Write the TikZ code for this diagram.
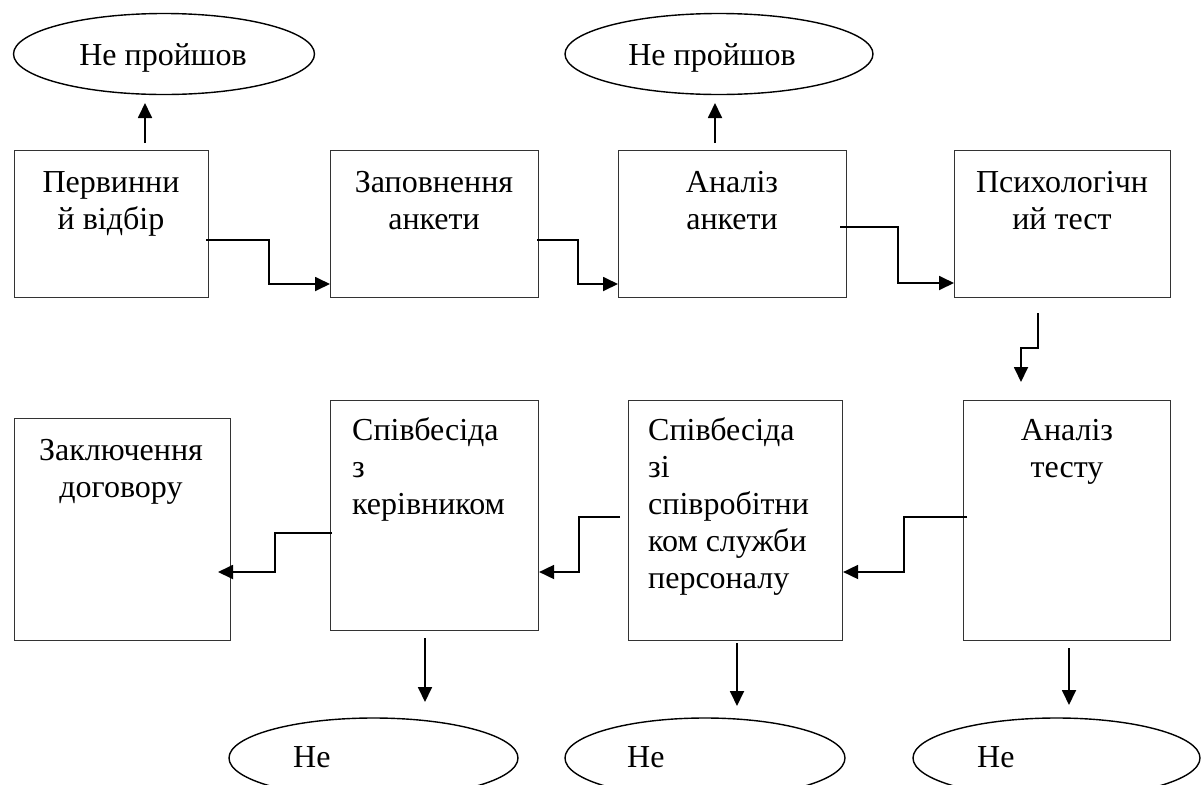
\documentclass[tikz,border=0pt]{standalone}
\usepackage{fontspec}
\setmainfont{Liberation Serif}
\usetikzlibrary{shapes.geometric,arrows.meta,calc}
\begin{document}
\begin{tikzpicture}[x=1pt,y=-1pt,
  box/.style={draw=black!80, line width=1.1pt, anchor=north west, inner sep=0pt},
  ell/.style={draw, ellipse, line width=1.4pt, inner sep=0pt},
  txt/.style={inner sep=0pt, font=\fontsize{32}{37}\selectfont},
  conn/.style={line width=1.8pt, -{Triangle[length=15pt,width=14pt]}},
]
\useasboundingbox (0,0) rectangle (1203,785);
\clip (0,0) rectangle (1203,785);

% boxes
\node[box, minimum width=194pt, minimum height=147pt] (b1) at (14,150) {};
\node[box, minimum width=208pt, minimum height=147pt] (b2) at (330,150) {};
\node[box, minimum width=228pt, minimum height=147pt] (b3) at (618,150) {};
\node[box, minimum width=216pt, minimum height=147pt] (b4) at (954,150) {};
\node[box, minimum width=207pt, minimum height=240pt] (b5) at (963,400) {};
\node[box, minimum width=214pt, minimum height=240pt] (b6) at (628,400) {};
\node[box, minimum width=208pt, minimum height=230pt] (b7) at (330,400) {};
\node[box, minimum width=216pt, minimum height=222pt] (b8) at (14,418) {};

% box texts
\node[txt, anchor=north, align=center] (t1) at (111,166.1) {\strut Первинни\\й відбір};
\node[txt, anchor=north, align=center] (t2) at (434,166.1) {\strut Заповнення\\анкети};
\node[txt, anchor=north, align=center] (t3) at (732,166.1) {\strut Аналіз\\анкети};
\node[txt, anchor=north, align=center] (t4) at (1062,166.1) {\strut Психологічн\\ий тест};
\node[txt, anchor=north, align=center] (t5) at (1067,414.1) {\strut Аналіз\\тесту};
\node[txt, anchor=north west, align=left] (t6) at (648,414.1) {\strut Співбесіда\\зі\\співробітни\\ком служби\\персоналу};
\node[txt, anchor=north west, align=left] (t7) at (352,414.1) {\strut Співбесіда\\з\\керівником};
\node[txt, anchor=north, align=center] (t8) at (121,434.1) {\strut Заключення\\договору};

% ellipses
\node[ell, minimum width=301pt, minimum height=81pt] (e1) at (164,54) {};
\node[txt, anchor=base] (te1) at (163,65) {Не пройшов};
\node[ell, minimum width=308pt, minimum height=81pt] (e2) at (719,54) {};
\node[txt, anchor=base] (te2) at (712,65) {Не пройшов};
\node[ell, minimum width=289pt, minimum height=80pt] (e3) at (373.5,758) {};
\node[ell, minimum width=280pt, minimum height=80pt] (e4) at (705,758) {};
\node[ell, minimum width=287pt, minimum height=80pt] (e5) at (1056.5,758) {};
\node[txt, anchor=base west] (te3) at (293,767) {Не};
\node[txt, anchor=base west] (te4) at (627,767) {Не};
\node[txt, anchor=base west] (te5) at (977,767) {Не};

% connector end points
\coordinate (u1s) at (145,143); \coordinate (u1e) at (145,103);
\coordinate (u3s) at (715,143); \coordinate (u3e) at (715,103);
\coordinate (s12) at (206,240);
\coordinate (s23) at (537,240);
\coordinate (s34) at (840,227);
\coordinate (s45) at (1038,313); \coordinate (e45) at (1021,382);
\coordinate (s56) at (967,517);
\coordinate (s67) at (620,517);
\coordinate (s78) at (332,533); \coordinate (e78) at (218,572);
\coordinate (d7s) at (425,638); \coordinate (d7e) at (425,702);
\coordinate (d6s) at (737,643); \coordinate (d6e) at (737,706);
\coordinate (d5s) at (1069,648); \coordinate (d5e) at (1069,705);

% connectors
\draw[conn] (u1s) -- (u1e);
\draw[conn] (u3s) -- (u3e);
\draw[conn] (s12) -| (269,284) -- (b2.west |- 0,284);
\draw[conn] (s23) -| (578,284) -- (b3.west |- 0,284);
\draw[conn] (s34) -| (898,283) -- (b4.west |- 0,283);
\draw[conn] (s45) |- (1021,348) -- (e45);
\draw[conn] (s56) -| (904,572) -- (b6.east |- 0,572);
\draw[conn] (s67) -| (579,572) -- (b7.east |- 0,572);
\draw[conn] (s78) -| (275,572) -- (e78);
\draw[conn] (d7s) -- (d7e);
\draw[conn] (d6s) -- (d6e);
\draw[conn] (d5s) -- (d5e);
\end{tikzpicture}
\end{document}
